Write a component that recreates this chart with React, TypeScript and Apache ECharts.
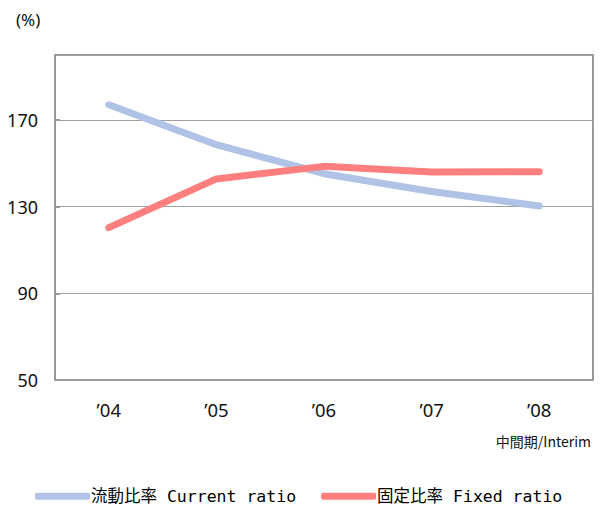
import React, { useEffect, useRef } from "react";
import * as echarts from "echarts";

const categories = ["’04", "’05", "’06", "’07", "’08"];
const currentRatio = [177.0, 158.6, 145.2, 137.0, 130.3];
const fixedRatio = [120.3, 142.8, 148.6, 146.0, 146.1];
const seriesNames = ["流動比率 Current ratio", "固定比率 Fixed ratio"];

export default function App() {
  const ref = useRef<HTMLDivElement>(null);
  useEffect(() => {
    if (!ref.current) return;
    const chart = echarts.init(ref.current, undefined, { renderer: "svg" });
    const font = "'Noto Sans', 'Open Sans', sans-serif";
    chart.setOption({
      animation: false,
      backgroundColor: "#ffffff",
      grid: {
        left: 55,
        right: 9,
        top: 55,
        bottom: 126,
        show: true,
        borderColor: "#9a9a9a",
        borderWidth: 2,
      },
      legend: {
        left: 35,
        top: 488,
        padding: 0,
        itemWidth: 55,
        itemHeight: 7,
        itemGap: 25,
        icon: "roundRect",
        textStyle: {
          fontFamily: "'DejaVu Sans Mono', 'Noto Sans CJK JP', monospace",
          fontSize: 16.5,
          lineHeight: 16,
          color: "#000",
          padding: [0, 0, 0, -4],
        },
        data: seriesNames,
      },
      xAxis: {
        type: "category",
        data: categories,
        boundaryGap: true,
        axisLine: { lineStyle: { color: "#9a9a9a", width: 2 } },
        axisTick: { inside: true, length: 5, interval: 0, lineStyle: { color: "#9a9a9a", width: 2 } },
        axisLabel: { margin: 20, fontSize: 18.5, color: "#111", fontFamily: font },
      },
      yAxis: {
        type: "value",
        min: 50,
        max: 200,
        interval: 40,
        axisLine: { show: true, lineStyle: { color: "#9a9a9a", width: 2 } },
        axisTick: { show: true, inside: true, length: 5, lineStyle: { color: "#9a9a9a", width: 2 } },
        splitLine: { show: true, lineStyle: { color: "#a0a0a0", width: 1 } },
        axisLabel: {
          margin: 17,
          fontSize: 18,
          color: "#111",
          fontFamily: font,
          formatter: (v: number) => (v === 200 ? "" : String(v)),
        },
      },
      series: [
        {
          name: seriesNames[0],
          type: "line",
          data: currentRatio,
          symbol: "none",
          lineStyle: { color: "#b0c3e6", width: 7, cap: "round", join: "round" },
          itemStyle: { color: "#b0c3e6" },
        },
        {
          name: seriesNames[1],
          type: "line",
          data: fixedRatio,
          symbol: "none",
          lineStyle: { color: "#ff7f7f", width: 7, cap: "round", join: "round" },
          itemStyle: { color: "#ff7f7f" },
        },
      ],
      graphic: [
        {
          type: "text",
          left: 16,
          top: 11,
          style: { text: "(%)", fontSize: 17, fill: "#111", fontFamily: font },
        },
        {
          type: "text",
          right: 11,
          top: 434,
          style: { text: "中間期/Interim", fontSize: 14, fill: "#111", fontFamily: "'Noto Sans CJK JP', sans-serif" },
        },
      ],
    });
    return () => chart.dispose();
  }, []);
  return <div ref={ref} style={{ width: 602, height: 506, position: "absolute", left: 0, top: 0 }} />;
}
